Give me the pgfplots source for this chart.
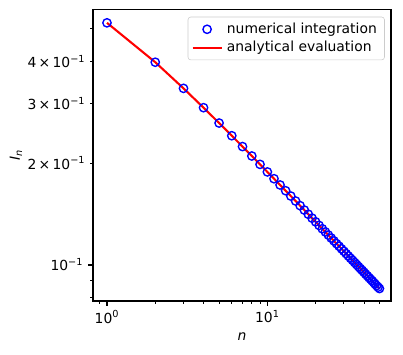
\documentclass[border=0pt]{standalone}
\usepackage{fontspec}
\setmainfont{DejaVu Sans}
\usepackage{pgfplots}
\usepackage{pgfplotstable}
\pgfplotsset{compat=1.18}
\pgfplotstableread{
n I
1 0.5188
2 0.3970
3 0.3323
4 0.2914
5 0.2625
6 0.2408
7 0.2237
8 0.2098
9 0.1982
10 0.1883
11 0.1798
12 0.1723
13 0.1657
14 0.1598
15 0.1545
16 0.1497
17 0.1453
18 0.1412
19 0.1375
20 0.1341
21 0.1309
22 0.1279
23 0.1252
24 0.1226
25 0.1201
26 0.1178
27 0.1156
28 0.1136
29 0.1116
30 0.1098
31 0.1080
32 0.1063
33 0.1047
34 0.1032
35 0.1017
36 0.1003
37 0.0989
38 0.0976
39 0.0964
40 0.0952
41 0.0940
42 0.0929
43 0.0918
44 0.0908
45 0.0898
46 0.0888
47 0.0878
48 0.0869
49 0.0860
50 0.0852
}\datatable
\begin{document}
\begin{tikzpicture}
\begin{axis}[
  xmode=log, ymode=log,
  scale only axis, width=214.6pt, height=209.9pt,
  xmin=0.818, xmax=59.0, ymin=0.0783, ymax=0.568,
  tick align=outside, tick pos=left,
  axis line style={line width=0.8pt},
  major tick length=3.5pt, minor tick length=2pt,
  major tick style={line width=0.8pt, black},
  minor tick style={line width=0.6pt, black},
  xtick={1,10}, xticklabels={10\textsuperscript{0},10\textsuperscript{1}},
  minor xtick={0.9,2,3,4,5,6,7,8,9,20,30,40,50},
  ytick={0.1}, yticklabels={10\textsuperscript{−1}},
  minor ytick={0.08,0.09,0.5},
  extra y ticks={0.2,0.3,0.4},
  extra y tick labels={2\,×\,10\textsuperscript{−1},3\,×\,10\textsuperscript{−1},4\,×\,10\textsuperscript{−1}},
  extra y tick style={major tick length=2pt, major tick style={line width=0.6pt, black}},
  ticklabel style={font=\fontsize{10}{12}\selectfont},
  xlabel={\textit{n}}, ylabel={\textit{I}\textsubscript{\textit{n}}},
  xlabel style={at={(axis description cs:0.5,-0.1225)}, anchor=center, font=\fontsize{10}{12}\selectfont},
  ylabel style={at={(axis description cs:-0.2584,0.5)}, anchor=center, font=\fontsize{10}{12}\selectfont},
  legend style={at={(1,1)}, anchor=north east, xshift=-4.5pt, yshift=-5.2pt,
    draw={rgb,1:red,0.8;green,0.8;blue,0.8}, rounded corners=2pt,
    font=\fontsize{10}{12}\selectfont, row sep=0.5pt, inner sep=2.5pt,
    nodes={inner ysep=1.8pt, inner xsep=3pt}},
  legend cell align=left,
]
\addplot[only marks, mark=o, mark size=3pt, draw={rgb,1:red,0;green,0;blue,1}, mark options={line width=1pt},
  legend image code/.code={\draw[mark repeat=2,mark phase=2] plot coordinates {(0pt,0pt)(10.5pt,0pt)(21pt,0pt)};}]
  table[x=n,y=I] {\datatable};
\addlegendentry{numerical integration}
\addplot[red, line width=1.5pt, no marks,
  legend image code/.code={\draw (0pt,0pt)--(21pt,0pt);}]
  table[x=n,y=I] {\datatable};
\addlegendentry{analytical evaluation}
\end{axis}
\path ([shift={(-66.96pt,-38.2pt)}]current axis.south west) rectangle ([shift={(8.64pt,6.84pt)}]current axis.north east);
\end{tikzpicture}
\end{document}
